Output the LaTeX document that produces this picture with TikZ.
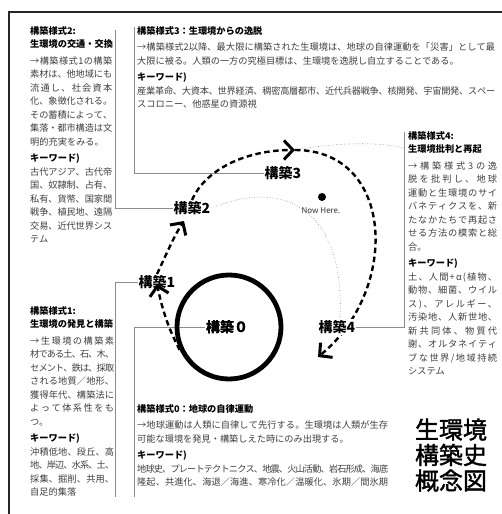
\documentclass[tikz,border=0pt]{standalone}
\usepackage{fontspec}
\setmainfont{Noto Sans CJK JP}
\newfontfamily\bigjp{Noto Sans CJK JP}[FakeBold=1.6]
\usetikzlibrary{arrows.meta}
\makeatletter
\newcommand\spr[2]{\hbox to #1{\spr@loop#2\relax}}
\def\spr@loop#1{#1\futurelet\spr@next\spr@check}
\def\spr@check{\ifx\spr@next\relax\expandafter\@gobble\else\hskip 0pt plus 1fil minus 1.3pt\expandafter\spr@loop\fi}
\makeatother
\tikzset{
  txt/.style={anchor=north west, inner sep=0pt, align=left, text=black!75,
    font=\fontsize{9.2}{13.5}\selectfont},
  lab/.style={font=\fontsize{14}{16}\selectfont\bfseries, fill=white, inner sep=1pt},
  bracket/.style={draw=black!45, line width=0.8pt},
  dotline/.style={draw=black!50, line width=0.6pt, dotted},
  dasharrow/.style={draw=black, line width=2.4pt, dash pattern=on 5.5pt off 3.5pt,
    -{Straight Barb[length=9pt,width=19pt,line width=3pt]}},
}
\newcommand\ttl[1]{{\color{black}\bfseries #1}}
\begin{document}
\begin{tikzpicture}[x=1pt,y=-1pt]
\useasboundingbox[fill=white] (0,0) rectangle (502,514);
% frame
\draw[line width=2pt, black!85] (9,514) -- (9,12) -- (502,12);

% labels
\node[lab] (k0) at (227,327) {構築０};
\node[lab] (k1) at (157,282) {構築1};
\node[lab] (k2) at (192,208) {構築2};
\node[lab] (k3) at (283,173) {構築3};
\node[lab] (k4) at (337,327) {構築4};

% bracket coordinates
\coordinate (b2) at (115,30);
\coordinate (b3) at (134,27);
\coordinate (b1) at (115,497);
\coordinate (b0) at (134,497);
\coordinate (b4) at (404,132);
\coordinate (c3end) at (295,150);
\coordinate (f4) at (404,148);

\draw[bracket] (b2) |- (k2.west);
\draw[bracket] (b3) |- (k3.west);
\draw[bracket] (b1) |- (k1.west);
\draw[bracket] (b0) |- (k0.west);
\draw[bracket] (b4) |- (k4.east);

% dotted curves
\draw[dotline] (k2.east) .. controls (290,176) and (345,215) .. ([xshift=3pt]k4.north);
\draw[dotline] (c3end) .. controls (340,142) and (380,142) .. (f4);

% circle
\node[circle, draw, line width=4.8pt, minimum size=104pt, inner sep=0pt] (c0) at (229,327) {};
\node[lab, fill=none] at (k0) {構築０};

% dashed arrows
\draw[dasharrow] (c0.205) .. controls (172,335) and (164,318) .. ([yshift=-10pt]k1.north);
\draw[dasharrow] (k1.north) .. controls (166,255) and (174,236) .. (184,221);
\draw[dasharrow] (k2.north) .. controls (205,170) and (245,150) .. (c3end);
\draw[dasharrow] (c3end) .. controls (395,150) and (400,290) .. (318,357);
\node[lab] at (k4) {構築4};

% now here
\fill (322,197) circle[radius=4pt];
\node[font=\fontsize{8}{9}\selectfont, text=black!80] (nh) at (321,211) {Now Here.};

% box 2
\node[txt] (t2) at (30,26) {%
\ttl{構築様式2:}\\
\ttl{生環境の交通・交換}\\[3pt]
\spr{82pt}{→構築様式1の構築}\\
\spr{82pt}{素材は、他地域にも}\\
\spr{82pt}{流通し、社会資本}\\
\spr{82pt}{化、象徴化される。}\\
\spr{82pt}{その蓄積によって、}\\
\spr{82pt}{集落・都市構造は文}\\
明的充実をみる。\\[3pt]
\ttl{キーワード)}\\
\spr{82pt}{古代アジア、古代帝}\\
\spr{82pt}{国、奴隷制、占有、}\\
\spr{82pt}{私有、貨幣、国家間}\\
\spr{82pt}{戦争、植民地、遠隔}\\
\spr{82pt}{交易、近代世界シス}\\
テム};

% box 3
\node[txt] (t3) at (137,26) {%
\ttl{構築様式3：生環境からの逸脱}\\[3pt]
\spr{358pt}{→構築様式2以降、最大限に構築された生環境は、地球の自律運動を「災害」として最}\\
大限に被る。人類の一方の究極目標は、生環境を逸脱し自立することである。\\[3pt]
\ttl{キーワード)}\\
\spr{358pt}{産業革命、大資本、世界経済、稠密高層都市、近代兵器戦争、核開発、宇宙開発、スペー}\\
スコロニー、他惑星の資源視};

% box 4
\node[txt] (t4) at (408,131) {%
\ttl{構築様式4:}\\
\ttl{生環境批判と再起}\\[3pt]
\spr{89pt}{→構築様式 3 の逸}\\
\spr{89pt}{脱を批判し、地球}\\
\spr{89pt}{運動と生環境のサイ}\\
\spr{89pt}{バネティクスを、新}\\
\spr{89pt}{たなかたちで再起さ}\\
\spr{89pt}{せる方法の模索と総}\\
合。\\[3pt]
\ttl{キーワード)}\\
\spr{89pt}{土、人間+α(植物、}\\
\spr{89pt}{動物、細菌、ウイル}\\
\spr{89pt}{ス)、アレルギー、}\\
\spr{89pt}{汚染地、人新世地、}\\
\spr{89pt}{新共同体、物質代}\\
\spr{89pt}{謝、オルタネイティ}\\
\spr{89pt}{ブな世界/地域持続}\\
システム};

% box 1
\node[txt] (t1) at (30,306) {%
\ttl{構築様式1:}\\
\ttl{生環境の発見と構築}\\[3pt]
\spr{84pt}{→生環境の構築素}\\
\spr{84pt}{材である土、石、木、}\\
\spr{84pt}{セメント、鉄は、採取}\\
\spr{84pt}{される地質／地形、}\\
\spr{84pt}{獲得年代、構築法に}\\
\spr{84pt}{よって体系性をも}\\
つ。\\[3pt]
\ttl{キーワード)}\\
\spr{84pt}{沖積低地、段丘、高}\\
\spr{84pt}{地、岸辺、水系、土、}\\
\spr{84pt}{採集、掘削、共用、}\\
自足的集落};

% box 0
\node[txt] (t0) at (137,404) {%
\ttl{構築様式0：地球の自律運動}\\[3pt]
\spr{251pt}{→地球運動は人類に自律して先行する。生環境は人類が生存}\\
可能な環境を発見・構築しえた時にのみ出現する。\\[3pt]
\ttl{キーワード)}\\
\spr{251pt}{地球史、プレートテクトニクス、地震、火山活動、岩石形成、海底}\\
\spr{251pt}{隆起、共進化、海退／海進、寒冷化／温暖化、氷期／間氷期}};

% big title
\node[font=\fontsize{24}{25.5}\bigjp, align=left, inner sep=0pt] (big) at (451,455) {生環境\\構築史\\概念図};
\end{tikzpicture}
\end{document}
